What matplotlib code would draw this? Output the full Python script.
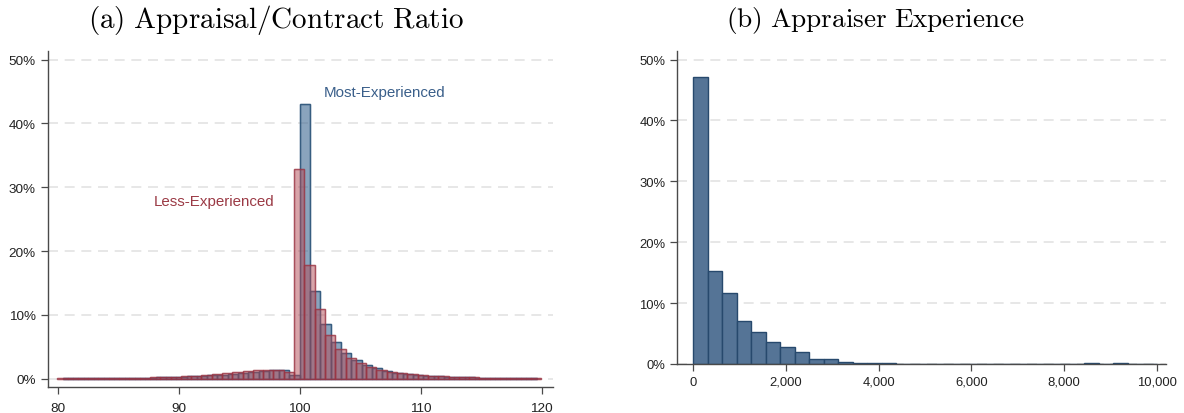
import numpy as np
import matplotlib
matplotlib.use("Agg")
import matplotlib.pyplot as plt
from matplotlib.ticker import FuncFormatter

plt.rcParams['font.family'] = ['Liberation Sans', 'DejaVu Sans']
plt.rcParams['mathtext.fontset'] = 'cm'

# ---------------- data (percent of observations per bin) ----------------
ratio_bin_width = 0.851
less_first_edge = 79.96
most_first_edge = 80.43

less_exp = [0.05, 0.05, 0.06, 0.07, 0.08, 0.10, 0.12, 0.15, 0.18, 0.22, 0.27, 0.33,
            0.40, 0.50, 0.60, 0.70, 0.85, 1.00, 1.20, 1.30, 1.40, 1.40, 1.10,
            32.8, 17.8, 11.0, 6.8, 4.6, 3.3, 2.4, 1.8, 1.4, 1.1, 0.85, 0.70,
            0.55, 0.45, 0.38, 0.30, 0.25, 0.20, 0.17, 0.14, 0.12, 0.10, 0.08, 0.07]

most_exp = [0.05, 0.05, 0.06, 0.07, 0.08, 0.09, 0.11, 0.14, 0.17, 0.20, 0.25, 0.30,
            0.37, 0.45, 0.55, 0.65, 0.80, 0.95, 1.10, 1.25, 1.35, 1.30, 0.60,
            43.0, 13.8, 8.6, 5.7, 4.0, 3.0, 2.1, 1.6, 1.25, 0.95, 0.75, 0.60,
            0.50, 0.40, 0.32, 0.26, 0.21, 0.17, 0.14, 0.12, 0.10, 0.08, 0.07]

exp_bin_width = 312.5
experience = [47.1, 15.2, 11.7, 7.0, 5.2, 3.6, 2.8, 2.0, 0.75, 0.85, 0.30, 0.10,
              0.15, 0.20, 0.05, 0.05, 0.03, 0.03, 0.0, 0.0, 0.0, 0.0, 0.0, 0.0,
              0.0, 0.0, 0.0, 0.10, 0.0, 0.10, 0.0, 0.0]

left_xticks = [80, 90, 100, 110, 120]
right_xticks = [0, 2000, 4000, 6000, 8000, 10000]
yticks = [0, 10, 20, 30, 40, 50]

titles = [r'$\mathrm{(a)\ Appraisal/Contract\ Ratio}$',
          r'$\mathrm{(b)\ Appraiser\ Experience}$']
label_most = 'Most-Experienced'
label_less = 'Less-Experienced'

# ---------------- styling ----------------
W, H = 1184, 414
fig = plt.figure(figsize=(W / 100, H / 100), dpi=100)

blue_face = '#3d6891'
blue_edge = '#2b5378'
red_face = '#b24a55'
red_edge = '#9a3443'
bar_blue = '#557496'
bar_blue_edge = '#27496d'
grid_c = '#e3e3e3'
tick_c = '#222222'


def px_axes(x0, y0, x1, y1):
    return fig.add_axes([x0 / W, 1 - y1 / H, (x1 - x0) / W, (y1 - y0) / H])


def style(ax, lsize):
    for s in ['top', 'right']:
        ax.spines[s].set_visible(False)
    for s in ['left', 'bottom']:
        ax.spines[s].set_color('#4a4a4a')
        ax.spines[s].set_linewidth(1.0)
    ax.tick_params(axis='both', direction='out', length=5, width=0.9,
                   colors='#4a4a4a', labelcolor=tick_c, labelsize=lsize)
    ax.set_yticks(yticks)
    ax.yaxis.set_major_formatter(FuncFormatter(lambda v, p: f'{v:.0f}%'))
    for t in yticks:
        ax.axhline(t, color=grid_c, lw=1.2, ls=(0, (6, 4)), zorder=0)


# ---------------- panel (a) ----------------
axL = px_axes(47.7, 51.7, 553, 388)
style(axL, 9.7)
axL.tick_params(axis='x', pad=6)
less_edges = less_first_edge + ratio_bin_width * np.arange(len(less_exp))
most_edges = most_first_edge + ratio_bin_width * np.arange(len(most_exp))
axL.bar(most_edges, most_exp, width=ratio_bin_width, align='edge',
        color=blue_face, alpha=0.6, edgecolor=blue_edge, linewidth=1.0, zorder=2)
axL.bar(most_edges, most_exp, width=ratio_bin_width, align='edge',
        facecolor='none', edgecolor=blue_edge, alpha=0.8, linewidth=1.0, zorder=2)
axL.bar(less_edges, less_exp, width=ratio_bin_width, align='edge',
        color=red_face, alpha=0.5, edgecolor=red_edge, linewidth=1.0, zorder=3)
axL.bar(less_edges, less_exp, width=ratio_bin_width, align='edge',
        facecolor='none', edgecolor=red_edge, alpha=0.65, linewidth=1.0, zorder=3)
axL.set_xlim(79.17, 120.93)
axL.set_ylim(-1.3, 51.4)
axL.set_xticks(left_xticks)
axL.text(107.0, 44.9, label_most, color='#3a5f8a', fontsize=10.9,
         ha='center', va='center')
axL.text(92.9, 27.9, label_less, color='#9b3a45', fontsize=10.9,
         ha='center', va='center')

# ---------------- panel (b) ----------------
axR = px_axes(677.3, 52, 1166, 365)
style(axR, 9.4)
exp_edges = exp_bin_width * np.arange(len(experience))
axR.bar(exp_edges, experience, width=exp_bin_width, align='edge',
        color=bar_blue, edgecolor=bar_blue_edge, linewidth=1.0, zorder=2)
axR.set_xlim(-348, 10203)
axR.set_ylim(0, 51.4)
axR.set_xticks(right_xticks)
axR.xaxis.set_major_formatter(FuncFormatter(lambda v, p: f'{v:,.0f}'))

# ---------------- titles ----------------
fig.text(275.5 / W, 1 - 20 / H, titles[0], fontsize=21, ha='center', va='center')
fig.text(875 / W, 1 - 20 / H, titles[1], fontsize=19.6, ha='center', va='center')

fig.savefig('out.png', dpi=100)
